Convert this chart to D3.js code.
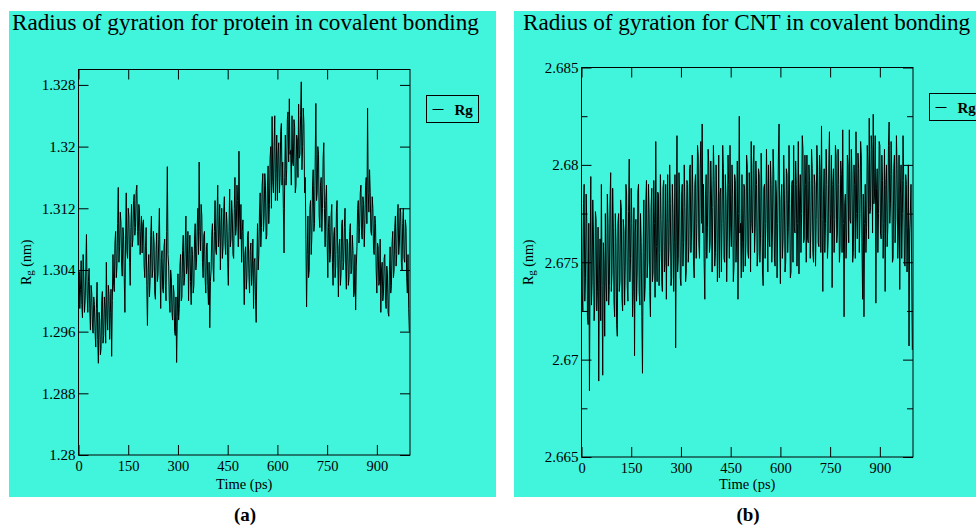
<!DOCTYPE html>
<html>
<head>
<meta charset="utf-8">
<script src="https://cdn.jsdelivr.net/npm/d3@7/dist/d3.min.js"></script>
<style>
  html, body { margin: 0; padding: 0; background: #ffffff; }
  svg { display: block; }
  text { font-family: "Liberation Serif", "Times New Roman", serif; fill: #000; }
</style>
</head>
<body>
<svg id="chart" width="976" height="526"></svg>
<script>
// Sampling of both trajectories (ps)
const timeStep = 2;
const timeDomain = [0, 1000];
const timeTicks = [0, 150, 300, 450, 600, 750, 900];

// Radius of gyration of the protein (nm), one value per frame
const proteinRg = [
  1.3005, 1.3038, 1.2990, 1.3015, 1.3052, 1.2995, 1.2978, 1.3060, 1.3031, 1.2985, 1.3000, 1.3040, 1.3086, 1.3010, 1.2985, 1.3025, 1.3042, 1.2990, 1.2962, 1.3020,
  1.3010, 1.2970, 1.2958, 1.3005, 1.2995, 1.2960, 1.2940, 1.2990, 1.3024, 1.2950, 1.2919, 1.2985, 1.2975, 1.2930, 1.2938, 1.3000, 1.3012, 1.2945, 1.2955, 1.3005,
  1.2990, 1.2945, 1.3050, 1.2980, 1.2962, 1.3020, 1.3008, 1.2950, 1.2985, 1.3015, 1.2928, 1.3000, 1.3060, 1.3020, 1.3012, 1.3075, 1.3090, 1.3030, 1.3045, 1.3100,
  1.3147, 1.3050, 1.3070, 1.3115, 1.3102, 1.3045, 1.3032, 1.3095, 1.3085, 1.3030, 1.2985, 1.3080, 1.3140, 1.3065, 1.3055, 1.3120, 1.3110, 1.3050, 1.3020, 1.3095,
  1.3125, 1.3070, 1.3080, 1.3130, 1.3138, 1.3085, 1.3095, 1.3142, 1.3150, 1.3090, 1.3072, 1.3125, 1.3118, 1.3060, 1.3090, 1.3110, 1.3062, 1.3100, 1.3105, 1.3045,
  1.3030, 1.3070, 1.3095, 1.3020, 1.2968, 1.3040, 1.3060, 1.3005, 1.3025, 1.3085, 1.3110, 1.3030, 1.3040, 1.3090, 1.3075, 1.3010, 1.3002, 1.3065, 1.3088, 1.3025,
  1.3035, 1.3080, 1.3120, 1.3040, 1.2990, 1.3055, 1.3065, 1.3015, 1.3010, 1.3070, 1.3080, 1.3020, 1.3000, 1.3090, 1.3174, 1.3060, 1.3045, 1.3000, 1.2985, 1.3040,
  1.3030, 1.2985, 1.2975, 1.3020, 1.3010, 1.2960, 1.2955, 1.3005, 1.2920, 1.2980, 1.3035, 1.2975, 1.2990, 1.3045, 1.3060, 1.3000, 1.3005, 1.3065, 1.3085, 1.3020,
  1.3030, 1.3075, 1.3110, 1.3035, 1.3045, 1.3090, 1.3000, 1.3060, 1.3085, 1.3025, 1.2995, 1.3070, 1.3060, 1.3010, 1.3020, 1.3080, 1.3100, 1.3040, 1.3050, 1.3095,
  1.3120, 1.3060, 1.3180, 1.3090, 1.3065, 1.3125, 1.3110, 1.3050, 1.3030, 1.3085, 1.3090, 1.3030, 1.3010, 1.3070, 1.3075, 1.3020, 1.2995, 1.3050, 1.2965, 1.3025,
  1.3040, 1.3085, 1.3100, 1.3045, 1.3025, 1.3090, 1.3130, 1.3065, 1.3060, 1.3110, 1.3150, 1.3070, 1.3085, 1.3125, 1.3040, 1.3095, 1.3120, 1.3055, 1.3070, 1.3115,
  1.3135, 1.3075, 1.3060, 1.3115, 1.3100, 1.3050, 1.3020, 1.3090, 1.3145, 1.3070, 1.3080, 1.3130, 1.3110, 1.3060, 1.3055, 1.3120, 1.3160, 1.3085, 1.3095, 1.3150,
  1.3130, 1.3070, 1.3194, 1.3110, 1.3080, 1.3125, 1.3050, 1.3090, 1.3105, 1.3040, 1.2995, 1.3060, 1.3070, 1.3015, 1.3030, 1.3085, 1.3090, 1.3035, 1.3010, 1.3065,
  1.3075, 1.3020, 1.3040, 1.3080, 1.2990, 1.3050, 1.3055, 1.3000, 1.2972, 1.3045, 1.3100, 1.3040, 1.3060, 1.3115, 1.3140, 1.3070, 1.3095, 1.3150, 1.3165, 1.3090,
  1.3110, 1.3165, 1.3150, 1.3080, 1.3085, 1.3150, 1.3175, 1.3100, 1.3125, 1.3185, 1.3200, 1.3120, 1.3239, 1.3155, 1.3140, 1.3200, 1.3240, 1.3130, 1.3165, 1.3215,
  1.3130, 1.3190, 1.3205, 1.3140, 1.3160, 1.3220, 1.3230, 1.3150, 1.3180, 1.3120, 1.3062, 1.3160, 1.3215, 1.3150, 1.3170, 1.3235, 1.3245, 1.3180, 1.3262, 1.3190,
  1.3195, 1.3150, 1.3240, 1.3180, 1.3175, 1.3235, 1.3225, 1.3140, 1.3150, 1.3215, 1.3210, 1.3160, 1.3255, 1.3185, 1.3190, 1.3240, 1.3284, 1.3170, 1.3200, 1.3250,
  1.3230, 1.3140, 1.3160, 1.3080, 1.2992, 1.3060, 1.3110, 1.3030, 1.3040, 1.3120, 1.3130, 1.3060, 1.3085, 1.3150, 1.3170, 1.3090, 1.3100, 1.3180, 1.3256, 1.3130,
  1.3140, 1.3200, 1.3190, 1.3110, 1.3095, 1.3150, 1.3160, 1.3090, 1.3120, 1.3185, 1.3205, 1.3120, 1.3070, 1.3130, 1.3150, 1.3080, 1.3030, 1.3095, 1.3110, 1.3050,
  1.3060, 1.3110, 1.3125, 1.3050, 1.3020, 1.3085, 1.3095, 1.3030, 1.3045, 1.3115, 1.3130, 1.3060, 1.3005, 1.3070, 1.3080, 1.3020, 1.3035, 1.3100, 1.3105, 1.3040,
  1.3050, 1.3095, 1.3120, 1.3045, 1.3015, 1.3080, 1.3075, 1.3020, 1.3030, 1.3090, 1.3100, 1.3035, 1.3040, 1.3085, 1.3065, 1.3005, 1.3010, 1.3060, 1.2988, 1.3045,
  1.3070, 1.3120, 1.3130, 1.3075, 1.3095, 1.3140, 1.3150, 1.3085, 1.3080, 1.3135, 1.3125, 1.3070, 1.3105, 1.3150, 1.3160, 1.3100, 1.3250, 1.3140, 1.3115, 1.3170,
  1.3140, 1.3090, 1.3085, 1.3135, 1.3120, 1.3065, 1.3060, 1.3110, 1.3100, 1.3040, 1.3010, 1.3075, 1.3070, 1.3020, 1.3025, 1.3080, 1.2985, 1.3040, 1.3050, 1.3000,
  1.3010, 1.3055, 1.3060, 1.3000, 1.2990, 1.3045, 1.3035, 1.2985, 1.2980, 1.3040, 1.3070, 1.3010, 1.3020, 1.3075, 1.3090, 1.3030, 1.3040, 1.3095, 1.3110, 1.3045,
  1.3060, 1.3110, 1.3125, 1.3060, 1.3075, 1.3120, 1.3115, 1.3050, 1.3040, 1.3100, 1.3120, 1.3055, 1.3050, 1.3105, 1.3095, 1.3030, 1.3010, 1.3060, 1.2990, 1.2960
];

// Radius of gyration of the CNT (nm), one value per frame
const cntRg = [
  2.6778, 2.6735, 2.6725, 2.6780, 2.6790, 2.6730, 2.6742, 2.6785, 2.6770, 2.6722, 2.6718, 2.6770, 2.6684, 2.6750, 2.6794, 2.6728, 2.6740, 2.6782, 2.6765, 2.6720,
  2.6728, 2.6776, 2.6772, 2.6725, 2.6735, 2.6768, 2.6689, 2.6745, 2.6762, 2.6720, 2.6790, 2.6738, 2.6692, 2.6760, 2.6748, 2.6712, 2.6775, 2.6740, 2.6730, 2.6785,
  2.6770, 2.6728, 2.6738, 2.6780, 2.6796, 2.6735, 2.6745, 2.6788, 2.6768, 2.6730, 2.6722, 2.6775, 2.6760, 2.6718, 2.6712, 2.6770, 2.6775, 2.6735, 2.6740, 2.6782,
  2.6778, 2.6732, 2.6725, 2.6772, 2.6766, 2.6728, 2.6748, 2.6790, 2.6785, 2.6738, 2.6730, 2.6776, 2.6803, 2.6740, 2.6752, 2.6788, 2.6770, 2.6722, 2.6735, 2.6778,
  2.6702, 2.6765, 2.6772, 2.6730, 2.6745, 2.6786, 2.6790, 2.6735, 2.6728, 2.6775, 2.6760, 2.6722, 2.6693, 2.6755, 2.6782, 2.6730, 2.6738, 2.6780, 2.6792, 2.6742,
  2.6750, 2.6790, 2.6775, 2.6735, 2.6722, 2.6778, 2.6788, 2.6740, 2.6745, 2.6792, 2.6770, 2.6732, 2.6812, 2.6758, 2.6740, 2.6786, 2.6785, 2.6738, 2.6755, 2.6795,
  2.6772, 2.6740, 2.6735, 2.6788, 2.6792, 2.6745, 2.6750, 2.6790, 2.6731, 2.6770, 2.6795, 2.6748, 2.6758, 2.6800, 2.6780, 2.6738, 2.6742, 2.6790, 2.6775, 2.6735,
  2.6760, 2.6795, 2.6706, 2.6765, 2.6815, 2.6745, 2.6752, 2.6796, 2.6785, 2.6742, 2.6738, 2.6785, 2.6790, 2.6748, 2.6760, 2.6800, 2.6778, 2.6740, 2.6745, 2.6792,
  2.6790, 2.6750, 2.6758, 2.6798, 2.6800, 2.6755, 2.6765, 2.6805, 2.6782, 2.6748, 2.6742, 2.6790, 2.6795, 2.6752, 2.6770, 2.6810, 2.6805, 2.6760, 2.6752, 2.6798,
  2.6812, 2.6770, 2.6821, 2.6765, 2.6790, 2.6750, 2.6731, 2.6785, 2.6795, 2.6752, 2.6768, 2.6808, 2.6800, 2.6755, 2.6760, 2.6802, 2.6785, 2.6745, 2.6778, 2.6810,
  2.6792, 2.6748, 2.6755, 2.6800, 2.6780, 2.6740, 2.6762, 2.6805, 2.6742, 2.6785, 2.6788, 2.6745, 2.6770, 2.6810, 2.6798, 2.6752, 2.6750, 2.6795, 2.6782, 2.6740,
  2.6765, 2.6805, 2.6790, 2.6752, 2.6810, 2.6768, 2.6758, 2.6800, 2.6785, 2.6740, 2.6748, 2.6795, 2.6792, 2.6750, 2.6762, 2.6802, 2.6731, 2.6775, 2.6825, 2.6765,
  2.6770, 2.6742, 2.6795, 2.6760, 2.6745, 2.6790, 2.6788, 2.6748, 2.6760, 2.6805, 2.6800, 2.6755, 2.6752, 2.6796, 2.6780, 2.6745, 2.6812, 2.6770, 2.6765, 2.6800,
  2.6810, 2.6755, 2.6768, 2.6802, 2.6790, 2.6748, 2.6755, 2.6798, 2.6795, 2.6750, 2.6762, 2.6806, 2.6785, 2.6745, 2.6738, 2.6788, 2.6790, 2.6752, 2.6770, 2.6808,
  2.6782, 2.6745, 2.6800, 2.6762, 2.6758, 2.6802, 2.6790, 2.6750, 2.6765, 2.6808, 2.6795, 2.6752, 2.6748, 2.6792, 2.6785, 2.6742, 2.6770, 2.6805, 2.6821, 2.6765,
  2.6739, 2.6782, 2.6790, 2.6752, 2.6762, 2.6805, 2.6785, 2.6745, 2.6750, 2.6798, 2.6795, 2.6755, 2.6768, 2.6810, 2.6780, 2.6742, 2.6745, 2.6790, 2.6792, 2.6750,
  2.6810, 2.6768, 2.6765, 2.6802, 2.6790, 2.6748, 2.6770, 2.6812, 2.6744, 2.6785, 2.6795, 2.6755, 2.6775, 2.6815, 2.6808, 2.6760, 2.6762, 2.6805, 2.6790, 2.6750,
  2.6805, 2.6762, 2.6760, 2.6800, 2.6792, 2.6752, 2.6768, 2.6808, 2.6798, 2.6755, 2.6750, 2.6795, 2.6790, 2.6748, 2.6772, 2.6810, 2.6800, 2.6760, 2.6758, 2.6805,
  2.6795, 2.6755, 2.6820, 2.6772, 2.6735, 2.6785, 2.6798, 2.6755, 2.6770, 2.6808, 2.6790, 2.6752, 2.6762, 2.6800, 2.6817, 2.6765, 2.6775, 2.6805, 2.6737, 2.6790,
  2.6798, 2.6755, 2.6772, 2.6810, 2.6805, 2.6760, 2.6765, 2.6808, 2.6790, 2.6750, 2.6758, 2.6802, 2.6795, 2.6755, 2.6818, 2.6770, 2.6722, 2.6780, 2.6785, 2.6752,
  2.6765, 2.6805, 2.6800, 2.6760, 2.6818, 2.6772, 2.6770, 2.6808, 2.6795, 2.6750, 2.6755, 2.6800, 2.6790, 2.6752, 2.6817, 2.6775, 2.6762, 2.6806, 2.6798, 2.6755,
  2.6775, 2.6812, 2.6805, 2.6760, 2.6731, 2.6785, 2.6722, 2.6770, 2.6790, 2.6755, 2.6768, 2.6810, 2.6800, 2.6762, 2.6824, 2.6775, 2.6778, 2.6815, 2.6808, 2.6765,
  2.6826, 2.6780, 2.6785, 2.6815, 2.6729, 2.6788, 2.6798, 2.6755, 2.6775, 2.6812, 2.6810, 2.6765, 2.6762, 2.6805, 2.6792, 2.6752, 2.6770, 2.6808, 2.6735, 2.6790,
  2.6800, 2.6758, 2.6768, 2.6810, 2.6822, 2.6770, 2.6780, 2.6812, 2.6795, 2.6750, 2.6752, 2.6798, 2.6805, 2.6760, 2.6772, 2.6815, 2.6798, 2.6752, 2.6765, 2.6805,
  2.6736, 2.6785, 2.6800, 2.6752, 2.6775, 2.6815, 2.6792, 2.6750, 2.6748, 2.6795, 2.6790, 2.6745, 2.6768, 2.6800, 2.6707, 2.6765, 2.6775, 2.6790, 2.6745, 2.6705
];

// Axis ticks for each panel
const proteinYDomain = [1.28, 1.33];
const proteinYTicks = [1.28, 1.288, 1.296, 1.304, 1.312, 1.32, 1.328];
const proteinYLabels = ["1.28", "1.288", "1.296", "1.304", "1.312", "1.32", "1.328"];
const cntYDomain = [2.665, 2.685];
const cntYTicks = [2.665, 2.67, 2.675, 2.68, 2.685];
const cntYLabels = ["2.665", "2.67", "2.675", "2.68", "2.685"];
const cntYMinorTicks = [2.6675, 2.6725, 2.6775, 2.6825];

const panelFill = "#40f5dc";
const serif = "'Liberation Serif', 'Times New Roman', serif";
const svg = d3.select("#chart");

function drawPanel(p) {
  const g = svg.append("g");

  // cyan page of the panel
  g.append("rect")
    .attr("x", p.bg[0]).attr("y", p.bg[1])
    .attr("width", p.bg[2]).attr("height", p.bg[3])
    .attr("fill", panelFill);

  g.append("text")
    .attr("x", p.titleX).attr("y", 30)
    .style("font-size", "23.2px")
    .text(p.title);

  const x = d3.scaleLinear().domain(timeDomain).range([p.left, p.right]);
  const y = d3.scaleLinear().domain(p.yDomain).range([p.bottom, p.top]);
  const tickLen = 10;

  const times = p.values.map((_, i) => i * timeStep);

  // data trace
  const line = d3.line().x((d, i) => x(times[i])).y(d => y(d));
  g.append("path")
    .datum(p.values)
    .attr("fill", "none")
    .attr("stroke", "#000")
    .attr("stroke-width", 1)
    .attr("d", line);

  // frame
  g.append("rect")
    .attr("x", p.left).attr("y", p.top)
    .attr("width", p.right - p.left).attr("height", p.bottom - p.top)
    .attr("fill", "none").attr("stroke", "#000").attr("stroke-width", 1);

  const style = size => sel => {
    sel.select(".domain").remove();
    sel.selectAll("line").attr("stroke", "#000");
    sel.selectAll("text").style("font-size", size).style("font-family", serif);
  };

  // bottom / top ticks (inward)
  g.append("g").attr("transform", `translate(0,${p.bottom})`)
    .call(d3.axisBottom(x).tickValues(timeTicks).tickFormat(d3.format("d"))
      .tickSizeInner(-tickLen).tickSizeOuter(0).tickPadding(6))
    .call(style("14.5px"));
  g.append("g").attr("transform", `translate(0,${p.top})`)
    .call(d3.axisTop(x).tickValues(timeTicks).tickFormat("")
      .tickSizeInner(-tickLen).tickSizeOuter(0))
    .call(style("14.5px"));

  // left / right ticks (inward)
  const labelOf = new Map(p.yTicks.map((v, i) => [v, p.yLabels[i]]));
  g.append("g").attr("transform", `translate(${p.left},0)`)
    .call(d3.axisLeft(y).tickValues(p.yTicks).tickFormat(d => labelOf.get(d))
      .tickSizeInner(-tickLen).tickSizeOuter(0).tickPadding(3))
    .call(style("15px"));
  g.append("g").attr("transform", `translate(${p.right},0)`)
    .call(d3.axisRight(y).tickValues(p.yTicks).tickFormat("")
      .tickSizeInner(-tickLen).tickSizeOuter(0))
    .call(style("15px"));

  if (p.yMinor) {
    g.append("g").attr("transform", `translate(${p.left},0)`)
      .call(d3.axisLeft(y).tickValues(p.yMinor).tickFormat("")
        .tickSizeInner(-6).tickSizeOuter(0))
      .call(style("15px"));
    g.append("g").attr("transform", `translate(${p.right},0)`)
      .call(d3.axisRight(y).tickValues(p.yMinor).tickFormat("")
        .tickSizeInner(-6).tickSizeOuter(0))
      .call(style("15px"));
  }

  // axis titles
  g.append("text")
    .attr("x", (p.left + p.right) / 2).attr("y", 489)
    .attr("text-anchor", "middle")
    .style("font-size", "14.5px")
    .text("Time (ps)");

  const yl = g.append("text")
    .attr("transform", `translate(${p.ylabelX},${(p.top + p.bottom) / 2}) rotate(-90)`)
    .attr("text-anchor", "middle")
    .style("font-size", "14px");
  yl.append("tspan").text("R");
  yl.append("tspan").attr("dy", 2).style("font-size", "11px").text("g");
  yl.append("tspan").attr("dy", -2).text(" (nm)");

  // legend
  const lg = g.append("g").attr("transform", `translate(${p.legend[0]},${p.legend[1]})`);
  lg.append("rect")
    .attr("width", p.legend[2]).attr("height", 27)
    .attr("fill", panelFill).attr("stroke", "#000").attr("stroke-width", 1);
  lg.append("line")
    .attr("x1", 6).attr("x2", 17).attr("y1", 14).attr("y2", 14)
    .attr("stroke", "#000").attr("stroke-width", 1);
  lg.append("text")
    .attr("x", 28).attr("y", 19)
    .style("font-size", "15px").style("font-weight", "bold")
    .text("Rg");

  // sub-figure caption
  svg.append("text")
    .attr("x", p.captionX).attr("y", 521)
    .attr("text-anchor", "middle")
    .style("font-size", "19px").style("font-weight", "bold")
    .text(p.caption);
}

drawPanel({
  bg: [9, 11, 487, 486],
  title: "Radius of gyration for protein in covalent bonding",
  titleX: 12,
  left: 78.5, right: 410, top: 69.5, bottom: 455,
  yDomain: proteinYDomain, yTicks: proteinYTicks, yLabels: proteinYLabels,
  values: proteinRg,
  ylabelX: 31,
  legend: [426.5, 95.5, 52],
  caption: "(a)", captionX: 245
});

drawPanel({
  bg: [514, 11, 462, 486],
  title: "Radius of gyration for CNT in covalent bonding",
  titleX: 523,
  left: 581.5, right: 913, top: 67.5, bottom: 457,
  yDomain: cntYDomain, yTicks: cntYTicks, yLabels: cntYLabels, yMinor: cntYMinorTicks,
  values: cntRg,
  ylabelX: 533,
  legend: [929.5, 93.5, 60],
  caption: "(b)", captionX: 748
});
</script>
</body>
</html>
